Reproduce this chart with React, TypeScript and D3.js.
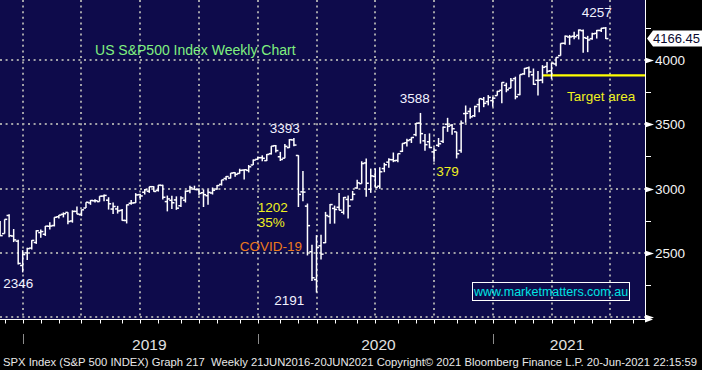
import React from "react";
import * as d3 from "d3";

// weekly bars, one per Friday, [open, high, low, close]
const firstWeek = "2018-11-16";
const lastWeek = "2021-06-18";

const bars2018 = [
  [2773, 2775, 2670, 2736], [2730, 2747, 2631, 2633], [2649, 2760, 2649, 2760],
  [2790, 2800, 2621, 2633], [2630, 2685, 2583, 2600], [2590, 2601, 2409, 2417],
  [2401, 2520, 2347, 2486],
];
const bars2019 = [
  [2499, 2538, 2444, 2532], [2536, 2598, 2525, 2596], [2580, 2675, 2569, 2671], [2657, 2681, 2617, 2665],
  [2644, 2708, 2631, 2707], [2706, 2738, 2681, 2708], [2712, 2776, 2705, 2776], [2780, 2794, 2766, 2793],
  [2799, 2814, 2775, 2804], [2814, 2816, 2722, 2743], [2747, 2830, 2734, 2822], [2822, 2860, 2800, 2801],
  [2796, 2836, 2785, 2834], [2848, 2893, 2848, 2893], [2888, 2910, 2873, 2907], [2904, 2916, 2891, 2905],
  [2898, 2940, 2898, 2940], [2941, 2954, 2900, 2946], [2909, 2932, 2836, 2881], [2840, 2892, 2801, 2860],
  [2841, 2865, 2805, 2826], [2830, 2841, 2750, 2752], [2751, 2876, 2728, 2873], [2885, 2911, 2874, 2887],
  [2889, 2964, 2888, 2950], [2952, 2960, 2913, 2942], [2971, 2996, 2953, 2990], [2979, 3014, 2966, 3014],
  [3014, 3018, 2975, 2977], [2986, 3028, 2976, 3026], [3024, 3029, 2914, 2932], [2898, 2945, 2822, 2919],
  [2908, 2943, 2840, 2889], [2911, 2939, 2834, 2847], [2866, 2940, 2856, 2926], [2909, 2985, 2891, 2979],
  [2981, 3021, 2964, 3007], [2996, 3022, 2990, 2992], [2991, 3002, 2946, 2962], [2967, 2993, 2856, 2952],
  [2944, 2993, 2874, 2970], [2965, 3008, 2953, 2986], [2996, 3027, 2991, 3023], [3032, 3067, 3023, 3067],
  [3078, 3097, 3065, 3093], [3081, 3120, 3078, 3120], [3123, 3127, 3091, 3110], [3117, 3154, 3116, 3141],
  [3143, 3150, 3070, 3146], [3141, 3183, 3125, 3169], [3183, 3226, 3183, 3221], [3227, 3248, 3222, 3240],
];
const bars2020 = [
  [3240, 3258, 3212, 3235], [3217, 3268, 3214, 3265], [3271, 3330, 3264, 3330], [3333, 3338, 3280, 3295],
  [3247, 3285, 3214, 3226], [3236, 3347, 3236, 3328], [3318, 3385, 3316, 3380], [3378, 3393, 3328, 3338],
  [3257, 3259, 2856, 2954], [2974, 3137, 2901, 2972], [2863, 2883, 2479, 2711], [2508, 2563, 2281, 2305],
  [2291, 2637, 2191, 2541], [2554, 2641, 2447, 2489], [2578, 2818, 2575, 2790], [2782, 2880, 2726, 2875],
  [2845, 2867, 2727, 2837], [2854, 2965, 2831, 2831], [2815, 2934, 2798, 2930], [2915, 2945, 2766, 2864],
  [2913, 2981, 2909, 2955], [3004, 3068, 2999, 3044], [3038, 3212, 3038, 3194], [3199, 3233, 2936, 3041],
  [2994, 3155, 2966, 3098], [3094, 3155, 3007, 3009], [3018, 3165, 2999, 3130], [3155, 3200, 3127, 3185],
  [3205, 3236, 3162, 3225], [3224, 3280, 3205, 3216], [3219, 3272, 3204, 3271], [3289, 3352, 3284, 3351],
  [3356, 3387, 3327, 3373], [3380, 3399, 3354, 3397], [3419, 3509, 3407, 3508], [3509, 3588, 3349, 3427],
  [3371, 3425, 3293, 3341], [3364, 3429, 3314, 3319], [3285, 3320, 3209, 3298], [3336, 3393, 3323, 3348],
  [3367, 3482, 3354, 3477], [3500, 3550, 3441, 3484], [3493, 3502, 3419, 3465], [3441, 3441, 3234, 3270],
  [3296, 3529, 3279, 3509], [3583, 3646, 3511, 3585], [3600, 3628, 3543, 3558], [3566, 3644, 3557, 3638],
  [3653, 3699, 3594, 3699], [3694, 3712, 3633, 3663], [3676, 3727, 3647, 3709], [3684, 3712, 3636, 3703],
  [3723, 3760, 3723, 3756],
];
const bars2021 = [
  [3764, 3827, 3663, 3825], [3803, 3823, 3749, 3768], [3781, 3860, 3781, 3841], [3855, 3870, 3694, 3714],
  [3731, 3887, 3726, 3887], [3892, 3937, 3885, 3935], [3939, 3950, 3866, 3907], [3885, 3934, 3806, 3811],
  [3842, 3915, 3723, 3842], [3844, 3960, 3819, 3943], [3949, 3984, 3894, 3913], [3916, 3978, 3853, 3975],
  [3969, 4021, 3952, 4020], [4034, 4130, 4034, 4129], [4130, 4191, 4119, 4185], [4179, 4195, 4118, 4180],
  [4185, 4219, 4162, 4181], [4192, 4238, 4160, 4233], [4228, 4237, 4057, 4174], [4169, 4188, 4061, 4156],
  [4166, 4213, 4157, 4204], [4207, 4234, 4167, 4230], [4230, 4250, 4218, 4247], [4249, 4257, 4164, 4166.45],
];

const priceTicks = [2000, 2500, 3000, 3500, 4000];
const minorTicks = [2250, 2750, 3250, 3750, 4250];
const lastPrice = 4166.45;
const targetLevel = 3880;
const targetFrom = "2021-03-12";

const yearLabels = [
  { text: "2019", date: "2019-07-12" },
  { text: "2020", date: "2020-07-01" },
  { text: "2021", date: "2021-04-19" },
];

const annotations = [
  { text: "US S&P500 Index Weekly Chart", date: "2019-04-19", value: 4078, kind: "title" },
  { text: "3393", date: "2020-02-07", value: 3467, kind: "price" },
  { text: "3588", date: "2020-08-26", value: 3697, kind: "price" },
  { text: "4257", date: "2021-06-04", value: 4366, kind: "price" },
  { text: "2346", date: "2018-12-21", value: 2257, kind: "price" },
  { text: "2191", date: "2020-02-14", value: 2125, kind: "price" },
  { text: "1202", date: "2019-12-27", value: 2852, kind: "note" },
  { text: "35%", date: "2019-12-27", value: 2732, kind: "note" },
  { text: "COVID-19", date: "2019-11-29", value: 2549, kind: "covid" },
  { text: "379", date: "2020-10-16", value: 3132, kind: "price379" },
  { text: "Target area", date: "2021-04-19", value: 3716, kind: "note" },
];

const footer =
  "SPX Index (S&P 500 INDEX) Graph 217  Weekly 21JUN2016-20JUN2021 Copyright\u00a9 2021 Bloomberg Finance L.P. 20-Jun-2021 22:15:59";

const parse = d3.timeParse("%Y-%m-%d");
const FONT = "'Liberation Sans', Arial, sans-serif";

const styles: Record<string, any> = {
  title: { fill: "#80f080", size: 14, anchor: "start" },
  price: { fill: "#f2f2ff", size: 13.5, anchor: "middle" },
  price379: { fill: "#f0f020", size: 13.5, anchor: "middle" },
  note: { fill: "#f0f020", size: 13.5, anchor: "start" },
  covid: { fill: "#ec7a1c", size: 13.5, anchor: "start" },
};

export default function App() {
  const width = 702;
  const height = 370;
  const plotRight = 645;
  const plotBottom = 320;

  const bars = [...bars2018, ...bars2019, ...bars2020, ...bars2021];
  const weeks = d3.timeFriday.range(parse(firstWeek)!, d3.timeDay.offset(parse(lastWeek)!, 1));

  const x = d3
    .scaleTime()
    .domain([parse("2018-12-28")!, parse("2021-06-25")!])
    .range([22.7, 610.3]);
  const y = d3.scaleLinear().domain([2000, 4000]).range([317, 60]);

  // Bloomberg puts month marks on the last bar of the previous month
  const months = d3.timeMonth
    .range(parse("2018-12-01")!, parse("2021-10-01")!)
    .map((m) => ({ m, px: x(d3.timeFriday.offset(d3.timeFriday.ceil(m), -1)) }))
    .filter((d) => d.px >= 0 && d.px <= plotRight);
  const quarters = months.filter((d) => d.m.getMonth() % 3 === 0);
  const years = months.filter((d) => d.m.getMonth() === 0);

  const tick = 2.6;
  const yLast = y(lastPrice);

  return (
    <svg width={width} height={height} style={{ display: "block" }} fontFamily={FONT}>
      <style>{`body{margin:0;background:#000}`}</style>
      <defs>
        <clipPath id="plot">
          <rect x={0} y={0} width={plotRight} height={plotBottom} />
        </clipPath>
      </defs>
      <rect width={width} height={height} fill="#000" />
      <rect x={0} y={0} width={plotRight} height={plotBottom} fill="#0e0b4b" />

      <g clipPath="url(#plot)">
        {/* grid */}
        <g stroke="#a2a2a8" strokeWidth={2} strokeDasharray="2,3.6">
          {priceTicks.map((p) => (
            <line key={p} x1={0} x2={plotRight} y1={Math.round(y(p))} y2={Math.round(y(p))} />
          ))}
          {quarters.map((d) => (
            <line key={+d.m} x1={Math.round(d.px)} x2={Math.round(d.px)} y1={0} y2={plotBottom} />
          ))}
        </g>

        {/* target line */}
        <line
          x1={x(parse(targetFrom)!)}
          x2={plotRight}
          y1={y(targetLevel)}
          y2={y(targetLevel)}
          stroke="#ffff00"
          strokeWidth={2.2}
        />

        {/* OHLC bars */}
        <g stroke="#ffffff" strokeWidth={1.5}>
          {weeks.map((d, i) => {
            const b = bars[i];
            if (!b) return null;
            const [o, h, l, c] = b;
            const cx = x(d);
            return (
              <g key={i}>
                <line x1={cx} x2={cx} y1={y(h)} y2={y(l)} />
                <line x1={cx - tick} x2={cx} y1={y(o)} y2={y(o)} />
                <line x1={cx} x2={cx + tick} y1={y(c)} y2={y(c)} />
              </g>
            );
          })}
        </g>

        {/* annotations */}
        {annotations.map((a) => {
          const s = styles[a.kind];
          return (
            <text
              key={a.text}
              x={x(parse(a.date)!)}
              y={y(a.value)}
              fill={s.fill}
              fontSize={s.size}
              textAnchor={s.anchor}
              dominantBaseline="central"
            >
              {a.text}
            </text>
          );
        })}

        {/* watermark */}
        <rect x={472.5} y={282.5} width={157} height={18} fill="none" stroke="#ffffff" strokeWidth={1} />
        <text x={551} y={292} fill="#00e4e4" fontSize={12.5} textAnchor="middle" dominantBaseline="central">
          www.marketmatters.com.au
        </text>
      </g>

      {/* axes frame */}
      <line x1={plotRight + 0.5} x2={plotRight + 0.5} y1={0} y2={plotBottom} stroke="#fff" strokeWidth={1} />
      <line x1={0} x2={plotRight} y1={plotBottom - 0.5} y2={plotBottom - 0.5} stroke="#fff" strokeWidth={1} />
      <path d={`M${plotRight},${plotBottom - 3.5}L${plotRight + 8},${plotBottom - 0.5}L${plotRight},${plotBottom + 2.5}Z`} fill="#fff" />

      {/* right axis */}
      {minorTicks.map((p) => (
        <line key={p} x1={plotRight} x2={plotRight + 6} y1={Math.round(y(p)) + 0.5} y2={Math.round(y(p)) + 0.5} stroke="#fff" />
      ))}
      {priceTicks.map((p) => {
        const py = Math.round(y(p)) + 0.5;
        return (
          <g key={p}>
            <path d={`M${plotRight},${py - 3}L${plotRight + 9},${py}L${plotRight},${py + 3}Z`} fill="#fff" />
            {p > 2000 && (
              <text x={655} y={py} fill="#f4f4f4" fontSize={13.5} dominantBaseline="central">
                {p}
              </text>
            )}
          </g>
        );
      })}

      {/* last price label */}
      <path
        d={`M${plotRight + 2},${yLast}L${plotRight + 8},${yLast - 8}L${width},${yLast - 8}L${width},${yLast + 8}L${plotRight + 8},${yLast + 8}Z`}
        fill="#ffffff"
      />
      <text x={653} y={yLast} fill="#0a0a30" fontSize={13} dominantBaseline="central">
        {lastPrice.toFixed(2)}
      </text>

      {/* bottom axis */}
      {months.map((d) => (
        <line key={+d.m} x1={Math.round(d.px) + 0.5} x2={Math.round(d.px) + 0.5} y1={plotBottom} y2={plotBottom + 3.5} stroke="#fff" />
      ))}
      {years.map((d) => (
        <line key={+d.m} x1={Math.round(d.px) + 0.5} x2={Math.round(d.px) + 0.5} y1={334} y2={344} stroke="#8c8c8c" />
      ))}
      {yearLabels.map((d) => (
        <text key={d.text} x={x(parse(d.date)!)} y={344} fill="#e2e2e2" fontSize={15.5} textAnchor="middle" dominantBaseline="central">
          {d.text}
        </text>
      ))}
      <text x={3} y={362} fill="#e8e8e8" fontSize={11} dominantBaseline="central" textLength={694} lengthAdjust="spacingAndGlyphs" style={{ whiteSpace: "pre" }}>
        {footer}
      </text>
    </svg>
  );
}
